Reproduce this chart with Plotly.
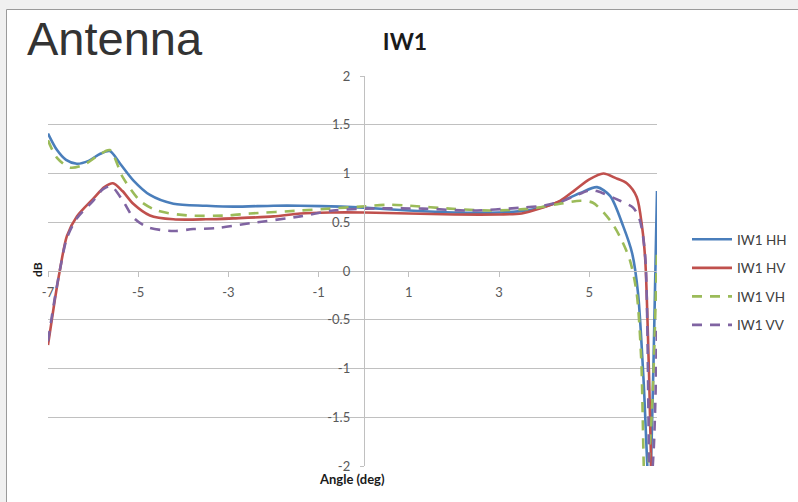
import plotly.graph_objects as go

# ---------------- data ----------------
hh_x = [-7.0, -6.8, -6.6, -6.36, -6.1, -5.85, -5.63, -5.4, -5.11, -4.74, -4.22, -3.5, -2.89, -2.0, -1.41, -0.5, 0.0, 1.0, 2.0, 3.0, 3.6, 4.0, 4.4, 4.8, 5.17, 5.46, 5.75, 5.95, 6.08, 6.2, 6.33, 6.42, 6.5]
hh_y = [1.41, 1.24, 1.14, 1.10, 1.13, 1.20, 1.23, 1.10, 0.93, 0.78, 0.69, 0.67, 0.66, 0.67, 0.67, 0.66, 0.65, 0.62, 0.60, 0.60, 0.62, 0.66, 0.72, 0.80, 0.86, 0.77, 0.46, 0.18, -0.23, -1.1, -2.3, -1.0, 0.82]

hv_x = [-7.0, -6.85, -6.74, -6.58, -6.36, -6.0, -5.75, -5.56, -5.35, -5.11, -4.74, -4.22, -3.5, -2.89, -2.0, -1.41, -0.75, 0.0, 1.0, 2.0, 3.0, 3.5, 3.9, 4.35, 4.68, 5.0, 5.31, 5.6, 5.83, 6.05, 6.17, 6.24, 6.32, 6.4, 6.5]
hv_y = [-0.76, -0.30, 0.0, 0.36, 0.56, 0.74, 0.86, 0.90, 0.82, 0.69, 0.57, 0.53, 0.53, 0.54, 0.56, 0.59, 0.60, 0.60, 0.59, 0.58, 0.58, 0.59, 0.64, 0.72, 0.83, 0.94, 1.00, 0.95, 0.90, 0.76, 0.45, 0.11, -1.0, -2.4, -3.0]

vh_x = [-7.0, -6.8, -6.51, -6.2, -5.9, -5.63, -5.34, -4.96, -4.58, -3.92, -3.03, -2.52, -1.41, -0.75, -0.08, 0.58, 1.0, 1.9, 2.8, 3.7, 4.35, 4.8, 5.08, 5.46, 5.68, 5.9, 6.05, 6.15, 6.24, 6.38, 6.5]
vh_y = [1.34, 1.16, 1.06, 1.09, 1.18, 1.24, 0.96, 0.72, 0.62, 0.57, 0.57, 0.59, 0.62, 0.64, 0.66, 0.68, 0.67, 0.64, 0.62, 0.64, 0.69, 0.72, 0.70, 0.52, 0.35, 0.11, -0.23, -0.9, -2.3, -1.5, 0.2]

vv_x = [-7.0, -6.85, -6.74, -6.58, -6.36, -6.0, -5.78, -5.6, -5.34, -5.11, -4.8, -4.22, -3.78, -3.26, -2.52, -1.41, -0.68, 0.07, 1.3, 2.4, 3.5, 3.98, 4.42, 5.02, 5.17, 5.68, 5.97, 6.12, 6.24, 6.35, 6.43, 6.5]
vv_y = [-0.72, -0.28, 0.0, 0.34, 0.54, 0.72, 0.84, 0.87, 0.72, 0.55, 0.45, 0.41, 0.43, 0.44, 0.49, 0.56, 0.62, 0.64, 0.64, 0.62, 0.65, 0.67, 0.72, 0.83, 0.82, 0.72, 0.65, 0.52, 0.14, -2.3, -1.8, -0.6]

series_names = ["IW1 HH", "IW1 HV", "IW1 VH", "IW1 VV"]
series_colors = ["#4A7EBB", "#C0504D", "#9BBB59", "#8064A2"]

x_ticks = [-7, -5, -3, -1, 1, 3, 5]
y_ticks = [-2, -1.5, -1, -0.5, 0, 0.5, 1, 1.5, 2]
y_ticktext = ["-2", "-1.5", "-1", "-0.5", "0", "0.5", "1", "1.5", "2"]

# ---------------- layout geometry ----------------
W, H = 798, 502
L, R, T, B = 48, 141, 76, 36
PW = W - L - R
PH = H - T - B


def px_x(px):
    return (px - L) / PW


def px_y(py):
    return (H - B - py) / PH


fig = go.Figure()

data = [(hh_x, hh_y, "solid"), (hv_x, hv_y, "solid"), (vh_x, vh_y, "10px,8px"), (vv_x, vv_y, "10px,8px")]
for i, (xs, ys, dash) in enumerate(data):
    fig.add_trace(go.Scatter(
        x=xs, y=ys, mode="lines", name=series_names[i],
        legendgroup=series_names[i],
        line=dict(color=series_colors[i], width=2.6, dash=dash, shape="spline", smoothing=0.8),
    ))

grid_c = "#C0C0C0"
tick_font = dict(family="Lato, Open Sans, sans-serif", size=13, color="#595959")

fig.update_layout(
    width=W, height=H,
    margin=dict(l=L, r=R, t=T, b=B, pad=0, autoexpand=False),
    paper_bgcolor="#F0F0F0",
    plot_bgcolor="rgba(0,0,0,0)",
    showlegend=True,
    legend=dict(
        x=px_x(687), y=px_y(224), xanchor="left", yanchor="top",
        font=dict(family="Lato, Open Sans, sans-serif", size=13.5, color="#404040"),
        bgcolor="rgba(0,0,0,0)", tracegroupgap=8, itemwidth=40,
        traceorder="grouped",
    ),
    title=dict(
        text="<b>IW1</b>", x=405 / W, xanchor="center", xref="container",
        y=1 - 42 / H, yanchor="middle", yref="container",
        font=dict(family="Lato, Open Sans, sans-serif", size=23, color="#1a1a1a"),
    ),
    xaxis=dict(
        range=[-7, 6.5], anchor="free", position=px_y(270.7),
        showgrid=False, zeroline=False,
        showline=True, linecolor=grid_c, linewidth=1,
        tickvals=x_ticks, ticktext=[str(v) for v in x_ticks],
        ticks="outside", ticklen=5, tickcolor=grid_c,
        tickfont=tick_font, ticklabelstandoff=5,
    ),
    yaxis=dict(
        range=[-2, 2], anchor="free", position=px_x(363.8),
        showgrid=True, gridcolor=grid_c, gridwidth=1, zeroline=False,
        showline=True, linecolor=grid_c, linewidth=1,
        tickvals=y_ticks, ticktext=y_ticktext,
        ticks="outside", ticklen=4, tickcolor=grid_c,
        tickfont=tick_font, ticklabelstandoff=7,
    ),
    shapes=[
        dict(type="rect", xref="paper", yref="paper", layer="below",
             x0=px_x(6.5), x1=px_x(820), y0=px_y(9.5), y1=px_y(520),
             fillcolor="white", line=dict(color="#9A9A9A", width=1)),
    ],
    annotations=[
        dict(text="Antenna", xref="paper", yref="paper", x=px_x(25), y=px_y(39),
             xanchor="left", yanchor="middle", showarrow=False,
             font=dict(family="Liberation Sans, Arial, sans-serif", size=47, color="#333333")),
        dict(text="<b>Angle (deg)</b>", xref="paper", yref="paper", x=px_x(352), y=px_y(479),
             xanchor="center", yanchor="middle", showarrow=False,
             font=dict(family="Lato, Open Sans, sans-serif", size=13, color="#1a1a1a")),
        dict(text="<b>dB</b>", xref="paper", yref="paper", x=px_x(37), y=px_y(270),
             xanchor="center", yanchor="middle", showarrow=False, textangle=-90,
             font=dict(family="Lato, Open Sans, sans-serif", size=12, color="#1a1a1a")),
    ],
)

fig.write_html("out.html")
